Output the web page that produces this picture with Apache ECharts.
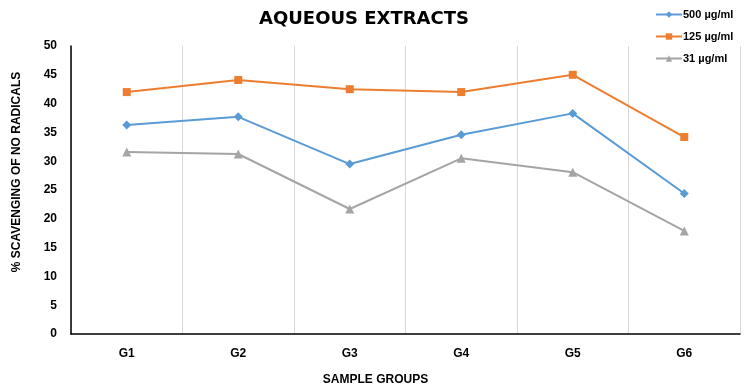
<!DOCTYPE html>
<html><head><meta charset="utf-8">
<script src="https://cdn.jsdelivr.net/npm/echarts@6/dist/echarts.min.js"></script>
<style>html,body{margin:0;padding:0;background:#fff}#c{width:746px;height:388px}</style>
</head><body><div id="c"></div>
<script>
var categories = ['G1','G2','G3','G4','G5','G6'];
var s500 = [36.3, 37.7, 29.5, 34.6, 38.3, 24.4];
var s125 = [42.0, 44.1, 42.5, 42.0, 45.0, 34.2];
var s31 = [31.6, 31.25, 21.7, 30.5, 28.1, 17.9];
var names = ['500 µg/ml','125 µg/ml','31 µg/ml'];
var yTicks = [0,5,10,15,20,25,30,35,40,45,50];

var chart = echarts.init(document.getElementById('c'));
function ser(name, data, color, symbol, size){
  return {name:name, type:'line', data:data, symbol:symbol, symbolSize:size,
    lineStyle:{color:color, width:2}, itemStyle:{color:color}, emphasis:{disabled:true}};
}
chart.setOption({
  animation:false,
  title:{text:'AQUEOUS EXTRACTS', left:359, top:5, textAlign:'center',
    textStyle:{fontFamily:'DejaVu Sans', fontWeight:'bold', fontSize:18, color:'#000'}},
  legend:{orient:'vertical', left:650, top:4, itemGap:11, itemWidth:26, itemHeight:8,
    textStyle:{fontFamily:'Liberation Sans', fontWeight:'bold', fontSize:11, color:'#000', padding:[0,0,0,-4]},
    data:names.map(function(n){return {name:n};})},
  grid:{left:71, right:6, top:46, bottom:54, outerBoundsMode:'none', containLabel:false},
  xAxis:{type:'category', data:categories, boundaryGap:true,
    name:'SAMPLE GROUPS', nameLocation:'middle', nameGap:40,
    nameTextStyle:{fontFamily:'Liberation Sans Narrow, Liberation Sans', fontWeight:'bold', fontSize:12, color:'#000', padding:[0,60,0,0]},
    axisLine:{lineStyle:{color:'#000', width:1.5}}, axisTick:{show:false},
    axisLabel:{fontFamily:'Liberation Sans', fontWeight:'bold', fontSize:12, color:'#000', margin:14},
    splitLine:{show:true, lineStyle:{color:'#d9d9d9', width:1}}},
  yAxis:{type:'value', min:yTicks[0], max:yTicks[yTicks.length-1], interval:5,
    name:'% SCAVENGING OF NO RADICALS', nameLocation:'middle', nameGap:48, nameRotate:90,
    nameTextStyle:{fontFamily:'Liberation Sans', fontWeight:'bold', fontSize:12, color:'#000', padding:[0,0,0,36]},
    axisLine:{show:true, lineStyle:{color:'#000', width:1.5}}, axisTick:{show:false},
    axisLabel:{fontFamily:'Liberation Sans', fontWeight:'bold', fontSize:12, color:'#000', margin:14},
    splitLine:{show:false}},
  series:[
    ser(names[0], s500, '#5B9BD5', 'diamond', 9),
    ser(names[1], s125, '#ED7D31', 'rect', 8),
    ser(names[2], s31, '#A5A5A5', 'triangle', 9)
  ]
});
</script></body></html>
